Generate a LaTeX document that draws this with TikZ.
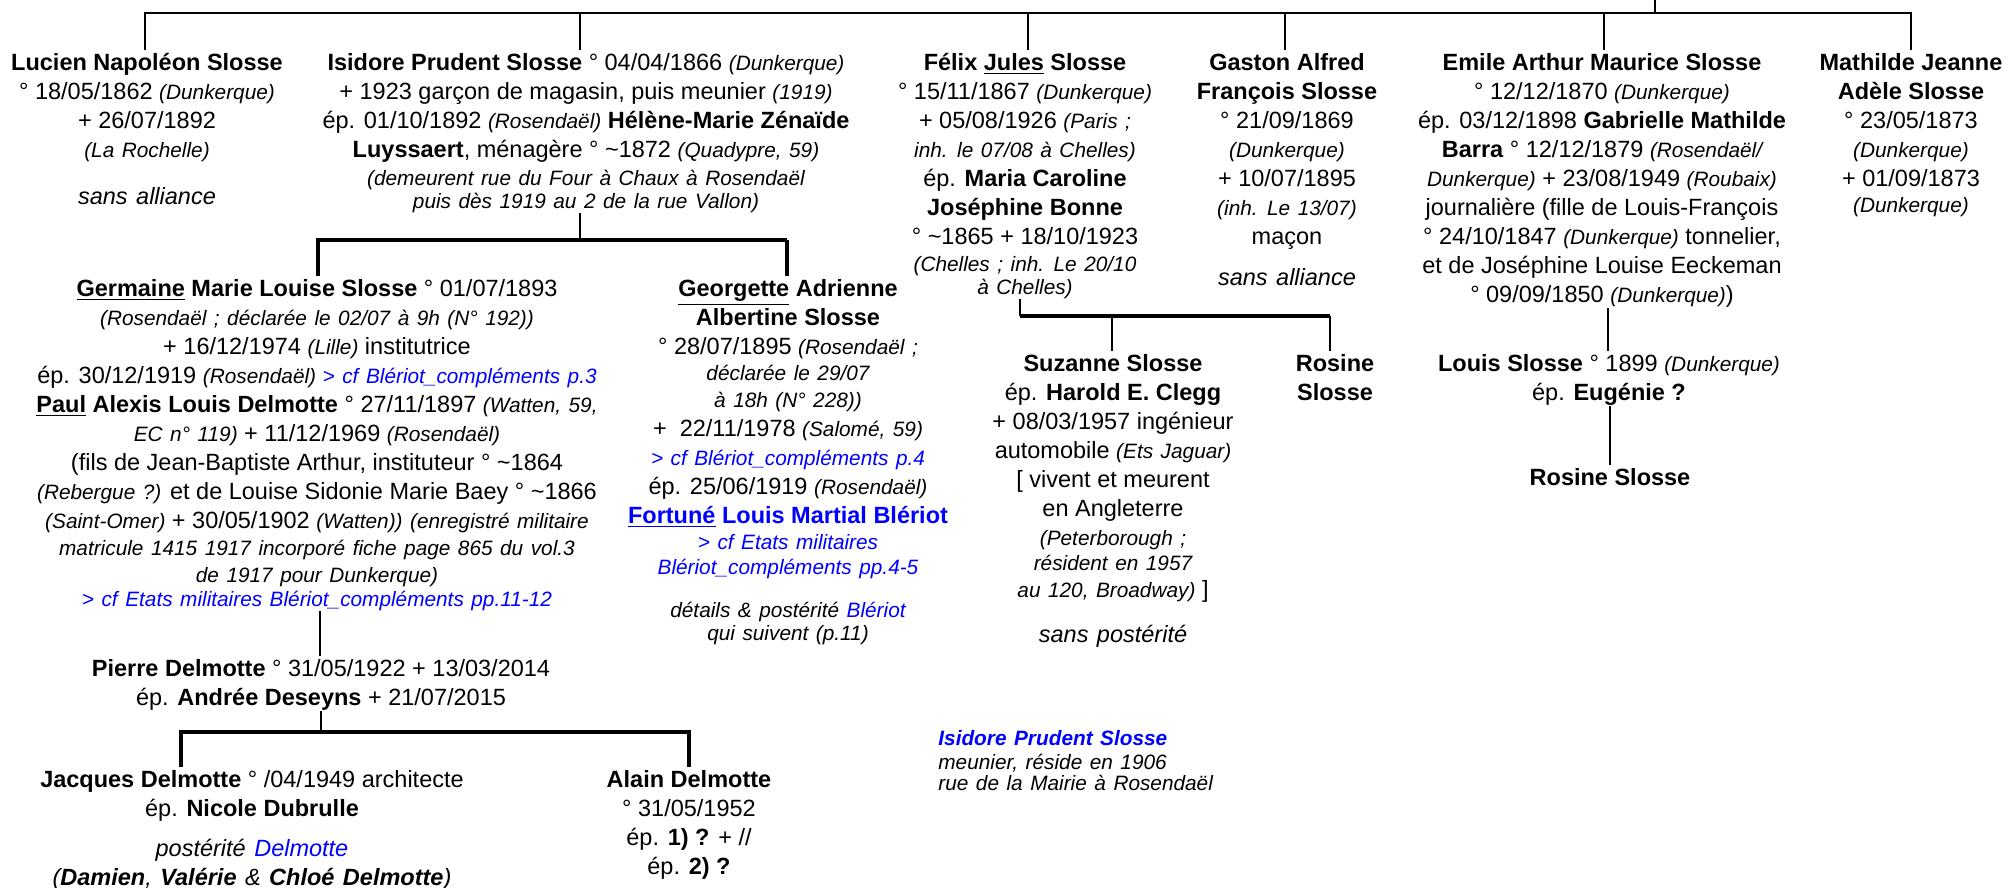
\documentclass[tikz,border=0pt]{standalone}
\usepackage{fontspec}
\setmainfont{Liberation Sans}
\newfontfamily\smitfam[WordSpace=1.3]{Liberation Sans}
\definecolor{lnk}{RGB}{0,0,255}
\newcommand\smit[1]{{\smitfam\fontsize{10.4}{14.5}\selectfont\itshape #1}}
\newcommand\bigit[1]{{\smitfam\itshape #1}}
\newcommand\lk[1]{{\color{lnk}#1}}
\newcommand\tildech{\textasciitilde}
\tikzset{
  person/.style={anchor=north, inner sep=0pt, align=center, font=\fontsize{11.75}{14.5}\selectfont},
  bar/.style={line width=1.3pt},
  thickbar/.style={line width=1.6pt},
  stem/.style={line width=0.9pt},
  note/.style={anchor=north west, inner sep=0pt, align=left, font=\smitfam\fontsize{10.4}{10.5}\selectfont\itshape}
}
\begin{document}
\begin{tikzpicture}[x=0.5pt,y=-0.5pt]
\useasboundingbox (0,0) rectangle (2010,888);

% ---- generation 1
\node[person] (lucien) at (147,50) {\strut\textbf{Lucien Napoléon Slosse}\\ ° 18/05/1862 \smit{(Dunkerque)}\\ + 26/07/1892\\ \smit{(La Rochelle)}\\[9pt] \bigit{sans alliance}};

\node[person] (isidore) at (586,50) {\strut\textbf{Isidore Prudent Slosse} ° 04/04/1866 \smit{(Dunkerque)}\\ + 1923 garçon de magasin, puis meunier \smit{(1919)}\\ ép. 01/10/1892 \smit{(Rosendaël)} \textbf{Hélène-Marie Zénaïde}\\ \textbf{Luyssaert}, ménagère ° \tildech1872 \smit{(Quadypre, 59)}\\[-0.5pt] \smit{(demeurent rue du Four à Chaux à Rosendaël}\\[-3pt] \smit{puis dès 1919 au 2 de la rue Vallon)}};

\node[person] (felix) at (1025,50) {\strut\textbf{Félix \underline{Jules} Slosse}\\ ° 15/11/1867 \smit{(Dunkerque)}\\ + 05/08/1926 \smit{(Paris ;}\\ \smit{inh. le 07/08 à Chelles)}\\ ép. \textbf{Maria Caroline}\\ \textbf{Joséphine Bonne}\\ ° \tildech1865 + 18/10/1923\\[-1pt] \smit{(Chelles ; inh. Le 20/10}\\[-3pt] \smit{à Chelles)}};

\node[person] (gaston) at (1287,50) {\strut\textbf{Gaston Alfred}\\ \textbf{François Slosse}\\ ° 21/09/1869\\ \smit{(Dunkerque)}\\ + 10/07/1895\\ \smit{(inh. Le 13/07)}\\ maçon\\[6pt] \bigit{sans alliance}};

\node[person] (emile) at (1602,50) {\strut\textbf{Emile Arthur Maurice Slosse}\\ ° 12/12/1870 \smit{(Dunkerque)}\\ ép. 03/12/1898 \textbf{Gabrielle Mathilde}\\ \textbf{Barra} ° 12/12/1879 \smit{(Rosendaël/}\\ \smit{Dunkerque)} + 23/08/1949 \smit{(Roubaix)}\\ journalière (fille de Louis-François\\ ° 24/10/1847 \smit{(Dunkerque)} tonnelier,\\ et de Joséphine Louise Eeckeman\\ ° 09/09/1850 \smit{(Dunkerque)})};

\node[person] (mathilde) at (1911,50) {\strut\textbf{Mathilde Jeanne}\\ \textbf{Adèle Slosse}\\ ° 23/05/1873\\ \smit{(Dunkerque)}\\ + 01/09/1873\\[-1.5pt] \smit{(Dunkerque)}};

% ---- generation 2
\node[person] (germaine) at (317,276) {\strut\textbf{\underline{Germaine} Marie Louise Slosse} ° 01/07/1893\\ \smit{(Rosendaël ; déclarée le 02/07 à 9h (N° 192))}\\ + 16/12/1974 \smit{(Lille)} institutrice\\ ép. 30/12/1919 \smit{(Rosendaël)} \lk{\smit{> cf Blériot\_compléments p.3}}\\ \textbf{\underline{Paul} Alexis Louis Delmotte} ° 27/11/1897 \smit{(Watten, 59,}\\ \smit{EC n° 119)} + 11/12/1969 \smit{(Rosendaël)}\\ (fils de Jean-Baptiste Arthur, instituteur ° \tildech1864\\ \smit{(Rebergue ?)} et de Louise Sidonie Marie Baey ° \tildech1866\\ \smit{(Saint-Omer)} + 30/05/1902 \smit{(Watten)) (enregistré militaire}\\[-1pt] \smit{matricule 1415 1917 incorporé fiche page 865 du vol.3}\\[-1pt] \smit{de 1917 pour Dunkerque)}\\[-2.5pt] \lk{\smit{> cf Etats militaires Blériot\_compléments pp.11-12}}};

\node[person] (georgette) at (788,276) {\strut\textbf{\underline{Georgette} Adrienne}\\ \textbf{Albertine Slosse}\\ ° 28/07/1895 \smit{(Rosendaël ;}\\[-1.5pt] \smit{déclarée le 29/07}\\[-1pt] \smit{à 18h (N° 228))}\\ +\ \ 22/11/1978 \smit{(Salomé, 59)}\\ \lk{\smit{> cf Blériot\_compléments p.4}}\\ ép. 25/06/1919 \smit{(Rosendaël)}\\ \lk{\textbf{\underline{Fortuné} Louis Martial Blériot}}\\[-1.5pt] \lk{\smit{> cf Etats militaires}}\\[-2pt] \lk{\smit{Blériot\_compléments pp.4-5}}\\[7pt] \smit{détails \& postérité \lk{Blériot}}\\[-3pt] \smit{qui suivent (p.11)}};

\node[person] (suzanne) at (1113,351) {\strut\textbf{Suzanne Slosse}\\ ép. \textbf{Harold E. Clegg}\\ + 08/03/1957 ingénieur\\ automobile \smit{(Ets Jaguar)}\\ {[} vivent et meurent\\ en Angleterre\\ \smit{(Peterborough ;}\\[-2pt] \smit{résident en 1957}\\[-1pt] \smit{au 120, Broadway)} ]\\[8pt] \bigit{sans postérité}};

\node[person] (rosine) at (1335,351) {\strut\textbf{Rosine}\\ \textbf{Slosse}};

\node[person] (louis) at (1609,351) {\strut\textbf{Louis Slosse} ° 1899 \smit{(Dunkerque)}\\ ép. \textbf{Eugénie ?}};

\node[person] (rosineb) at (1610,465) {\strut\textbf{Rosine Slosse}};

% ---- generation 3 and 4
\node[person] (pierre) at (321,656) {\strut\textbf{Pierre Delmotte} ° 31/05/1922 + 13/03/2014\\ ép. \textbf{Andrée Deseyns} + 21/07/2015};

\node[person] (jacques) at (252,767) {\strut\textbf{Jacques Delmotte} ° /04/1949 architecte\\ ép. \textbf{Nicole Dubrulle}\\[5.5pt] \bigit{postérité \lk{Delmotte}}\\ \bigit{(\textbf{Damien}, \textbf{Valérie} \& \textbf{Chloé Delmotte})}};

\node[person] (alain) at (689,767) {\strut\textbf{Alain Delmotte}\\ ° 31/05/1952\\ ép. \textbf{1) ?} + //\\ ép. \textbf{2) ?}};

\node[note] (isnote) at (938,730) {\strut\textbf{\lk{Isidore Prudent Slosse}}\\ meunier, réside en 1906\\ rue de la Mairie à Rosendaël};

% ---- connectors
\coordinate (root) at (1655,0);
\coordinate (barL) at (145,13);
\coordinate (barR) at (1911,13);
\coordinate (dIsi) at (580,13);
\coordinate (dFel) at (1028,13);
\coordinate (dGas) at (1285,13);
\coordinate (dEmi) at (1604,13);
\draw[stem] (root) -- (root |- barL);
\draw[bar] (lucien.north -| barL) -- (barL) -- (barR) -- (mathilde.north -| barR);
\draw[stem] (dIsi) -- (isidore.north -| dIsi);
\draw[stem] (dFel) -- (felix.north -| dFel);
\draw[stem] (dGas) -- (gaston.north -| dGas);
\draw[stem] (dEmi) -- (emile.north -| dEmi);

% Isidore's children
\coordinate (iMid) at (580,240);
\coordinate (iL) at (318,240);
\coordinate (iR) at (787,240);
\draw[stem] (isidore.south -| iMid) -- (iMid);
\draw[thickbar] (germaine.north -| iL) -- (iL) -- (iR);
\draw[thickbar] (iR) -- (georgette.north -| iR);

% Felix's children
\coordinate (fL) at (1020,316);
\coordinate (fS) at (1112,316);
\coordinate (fR) at (1330,316);
\draw[stem] (felix.south -| fL) -- (fL);
\draw[thickbar] (fL) -- (fR);
\draw[stem] (fR) -- (rosine.north -| fR);
\draw[stem] (fS) -- (suzanne.north -| fS);

% Emile's line
\coordinate (eX) at (1608,0);
\draw[stem] (emile.south -| eX) -- (louis.north -| eX);
\coordinate (lX) at (1610,0);
\draw[stem] (louis.south -| lX) -- (rosineb.north -| lX);

% Germaine -> Pierre -> children
\coordinate (gX) at (320,0);
\draw[stem] (germaine.south -| gX) -- (pierre.north -| gX);
\coordinate (pMid) at (321,732);
\coordinate (pL) at (181,732);
\coordinate (pR) at (689,732);
\draw[stem] (pierre.south -| pMid) -- (pMid);
\draw[thickbar] (jacques.north -| pL) -- (pL) -- (pR) -- (alain.north -| pR);
\end{tikzpicture}
\end{document}
